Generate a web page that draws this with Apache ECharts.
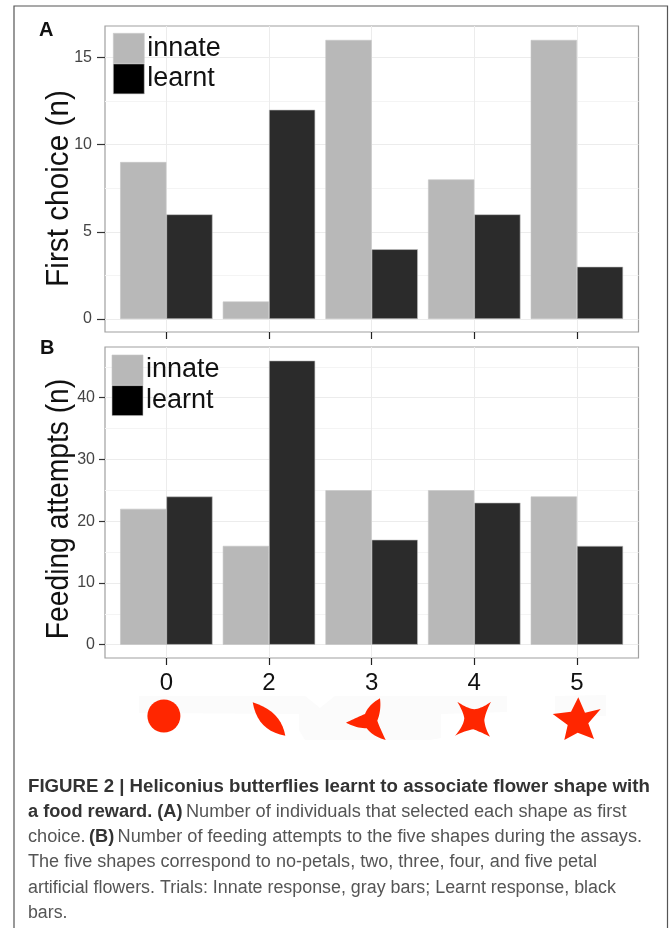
<!DOCTYPE html>
<html><head><meta charset="utf-8">
<style>html,body{margin:0;padding:0;background:#fff}#c{width:669px;height:928px}</style>
<script src="https://cdn.jsdelivr.net/npm/echarts@6/dist/echarts.min.js"></script>
</head><body><div id="c"></div>
<script>
const shapeLabels = ['0','2','3','4','5'];
const positions = [1,2,3,4,5];
const seriesNames = ['innate','learnt'];
const firstInnate = [9,1,16,8,16];
const firstLearnt = [6,12,4,6,3];
const feedInnate = [22,16,25,25,24];
const feedLearnt = [24,46,17,23,16];
const firstMajor = [0,5,10,15];
const firstMinor = [2.5,7.5,12.5];
const feedMajor = [0,10,20,30,40];
const feedMinor = [5,15,25,35,45];

const GRAY='#b8b8b8', DARK='#2b2b2b', RED='#ff2600';
const font='"Liberation Sans"';
const chart = echarts.init(document.getElementById('c'),null,{renderer:'canvas'});

const pair=(vals)=>positions.map((p,i)=>[p,vals[i]]);
const xAxis=(idx,labels)=>({
  type:'value',gridIndex:idx,min:0.402,max:5.6,
  axisLine:{show:false,onZero:false},
  axisTick:{show:true,length:7,lineStyle:{color:'#222',width:1.2},customValues:positions},
  axisLabel:{show:labels,customValues:positions,margin:13,fontSize:24,color:'#111',fontFamily:font,
    formatter:v=>shapeLabels[positions.indexOf(v)]},
  splitLine:{show:true,lineStyle:{color:'#ececec',width:1}}
});
const yMain=(idx,min,max,major,tick,margin)=>({
  type:'value',gridIndex:idx,min,max,
  axisLine:{show:false,onZero:false},
  axisTick:{show:true,length:tick,lineStyle:{color:'#333',width:1.2},customValues:major},
  axisLabel:{customValues:major,margin,fontSize:16,color:'#444',fontFamily:font},
  splitLine:{show:true,lineStyle:{color:'#ececec',width:1}}
});
const yMinor=(idx,min,max,minor)=>({
  type:'value',gridIndex:idx,min,max,
  axisLine:{show:false,onZero:false},
  axisTick:{show:false,customValues:minor},
  axisLabel:{show:false,customValues:minor},
  splitLine:{show:true,lineStyle:{color:'#f4f4f4',width:1}}
});
const bar=(name,vals,idx,color)=>({
  type:'bar',name,xAxisIndex:idx,yAxisIndex:idx*2,data:pair(vals),
  barWidth:46.2,barGap:'0%',
  itemStyle:{color,borderColor:'#c4c4c4',borderWidth:0.6},
  emphasis:{disabled:true},animation:false
});
const legend=(left,top)=>({
  orient:'vertical',left,top,padding:0,itemGap:0,itemWidth:31,itemHeight:30,icon:'rect',
  selectedMode:false,
  textStyle:{fontSize:27,color:'#111',fontFamily:font,lineHeight:26,padding:[4,0,0,-2]},
  data:[
    {name:seriesNames[0],itemStyle:{color:GRAY,borderColor:'#c8c8c8',borderWidth:0.6}},
    {name:seriesNames[1],itemStyle:{color:'#000',borderColor:'#c8c8c8',borderWidth:0.6}}
  ]
});

const capFill='#555', capBold='#333';
const captionLines=[
 {y:787.5,sx:1.036,rich:'{b|FIGURE 2 | Heliconius butterflies learnt to associate flower shape with}'},
 {y:812.5,sx:1.01,rich:'{b|a food reward. (A)} {r|Number of individuals that selected each shape as first}'},
 {y:837.5,sx:1.01,rich:'{r|choice.} {b|(B)} {r|Number of feeding attempts to the five shapes during the assays.}'},
 {y:862.5,sx:1.003,rich:'{r|The five shapes correspond to no-petals, two, three, four, and five petal}'},
 {y:888.5,sx:0.992,rich:'{r|artificial flowers. Trials: Innate response, gray bars; Learnt response, black}'},
 {y:913.5,sx:0.985,rich:'{r|bars.}'}
];
const capEls=captionLines.map(l=>({type:'text',x:28,y:l.y,scaleX:l.sx,silent:true,
  style:{text:l.rich,verticalAlign:'middle',
   rich:{b:{fontFamily:font,fontWeight:'bold',fontSize:18,fill:capBold,color:capBold},
         r:{fontFamily:font,fontSize:18,fill:capFill,color:capFill}}}}));

// outline helper: start point, then [ctrlX,ctrlY,endX,endY] quadratic segments
function outline(start,segs){
  const pts=[start];let p=start;
  segs.forEach(s=>{
    for(let k=1;k<=10;k++){const t=k/10,u=1-t;
      pts.push([u*u*p[0]+2*u*t*s[0]+t*t*s[2],u*u*p[1]+2*u*t*s[1]+t*t*s[3]]);}
    p=[s[2],s[3]];
  });
  return pts;
}
const shapeEl=(points,fill)=>({type:'polygon',silent:true,shape:{points},style:{fill}});
const flowerEls=[
 shapeEl([[139,696],[305,696],[320,708],[335,696],[507,696],[507,712],[441,714],[441,738],[430,740],[305,740],[299,730],[299,714],[139,713]],'#fbfbfb'),
 shapeEl([[555,696],[606,695],[606,716],[555,716]],'#fbfbfb'),
 {type:'circle',silent:true,shape:{cx:163.9,cy:716,r:16.5},style:{fill:RED}},
 shapeEl(outline([252.7,702.3],[[281,711,285.3,735.7],[257.6,731,252.7,702.3]]),RED),
 shapeEl(outline([380,698.3],[[381.5,710,377.3,720.7],[380,728.3,385.7,740],[373.3,736.7,366.7,728.3],[356.7,728.3,346,722.7],[355,718.3,365,714],[368.3,705,380,698.3]]),RED),
 shapeEl(outline([457.3,701.7],[[466.7,708.3,474.3,709.3],[482.3,708.3,491,701.7],[485.7,711.7,484.3,720],[485,728.3,490,736.7],[480,731.7,473.3,729.3],[465,730.7,455,735.7],[463.3,726.7,464.3,718.3],[463.3,711.7,457.3,701.7]]),RED),
 shapeEl([[578.3,697.3],[585,712.7],[600.7,709],[588.3,723.3],[594,739],[577.7,732.7],[564.3,740],[567.7,725],[552.7,714],[571,711.7]],RED)
];
const axisTitle=(text,cx,cy,size,sx)=>({type:'text',x:cx,y:cy,rotation:Math.PI/2,scaleX:sx,silent:true,
  style:{text,fontFamily:font,fontSize:size,fill:'#111',align:'center',verticalAlign:'middle'}});

chart.setOption({
  animation:false,
  backgroundColor:'#fff',
  grid:[
    {left:105,top:26,width:533.5,height:306,show:true,borderColor:'#a0a0a0',borderWidth:1.2,backgroundColor:'#fff'},
    {left:105,top:347,width:533.5,height:311,show:true,borderColor:'#a0a0a0',borderWidth:1.2,backgroundColor:'#fff'}
  ],
  xAxis:[xAxis(0,false),xAxis(1,true)],
  yAxis:[
    yMain(0,-0.745,16.8,firstMajor,8,13),
    yMinor(0,-0.745,16.8,firstMinor),
    yMain(1,-2.15,48.2,feedMajor,6,10),
    yMinor(1,-2.15,48.2,feedMinor)
  ],
  legend:[legend(113,33),legend(111.7,354.7)],
  series:[
    bar(seriesNames[0],firstInnate,0,GRAY),
    bar(seriesNames[1],firstLearnt,0,DARK),
    bar(seriesNames[0],feedInnate,1,GRAY),
    bar(seriesNames[1],feedLearnt,1,DARK)
  ],
  graphic:{elements:[
    {type:'polyline',silent:true,shape:{points:[[14,928],[14,6],[667.5,6],[667.5,928]]},style:{stroke:'#555',lineWidth:1.2,fill:null}},
    {type:'text',x:39,y:30,silent:true,style:{text:'A',fontFamily:font,fontWeight:'bold',fontSize:20,fill:'#111',verticalAlign:'middle'}},
    {type:'text',x:40,y:348,silent:true,style:{text:'B',fontFamily:font,fontWeight:'bold',fontSize:20,fill:'#111',verticalAlign:'middle'}},
    axisTitle('First choice (n)',59.5,188.5,32,0.93),
    axisTitle('Feeding attempts (n)',59.5,509,31,0.91),
    ...flowerEls,
    ...capEls
  ]}
});
</script></body></html>
